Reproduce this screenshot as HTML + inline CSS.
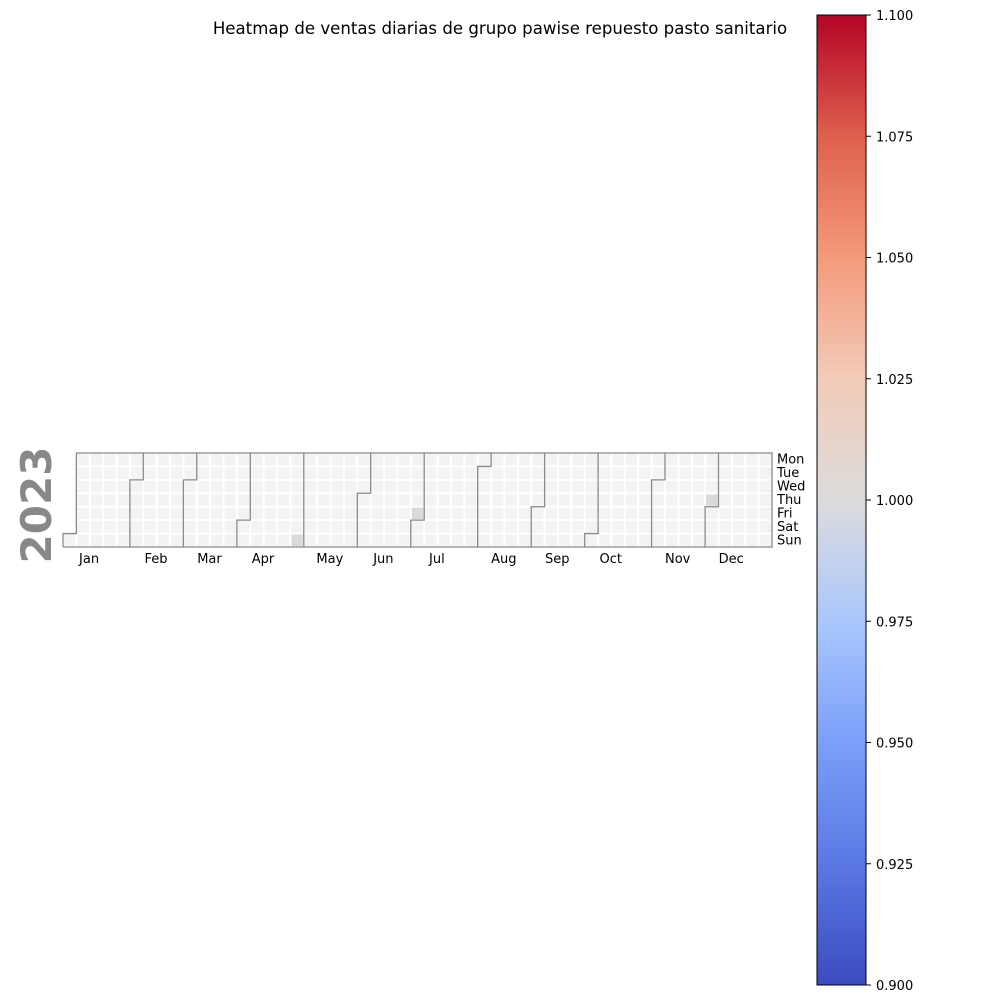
<!DOCTYPE html>
<html><head><meta charset="utf-8">
<style>
html,body{margin:0;padding:0;background:#fff;}
svg{display:block;font-family:"DejaVu Sans","Liberation Sans",sans-serif;}
</style></head>
<body>
<svg id="chart" width="1000" height="1000" viewBox="0 0 1000 1000" xmlns="http://www.w3.org/2000/svg">
<defs>
<linearGradient id="cw" x1="0" y1="1" x2="0" y2="0">
<stop offset="0" stop-color="#3b4cc0"/>
<stop offset="0.125" stop-color="#5a78e4"/>
<stop offset="0.25" stop-color="#7b9ff9"/>
<stop offset="0.375" stop-color="#aac7fd"/>
<stop offset="0.5" stop-color="#dddcdc"/>
<stop offset="0.625" stop-color="#f2cbb7"/>
<stop offset="0.75" stop-color="#f49a7b"/>
<stop offset="0.875" stop-color="#de604d"/>
<stop offset="1" stop-color="#b40426"/>
</linearGradient>
</defs>
<text x="500" y="34" font-size="16.6" text-anchor="middle">Heatmap de ventas diarias de grupo pawise repuesto pasto sanitario</text>
<text x="0" y="0" font-size="42" font-weight="bold" fill="#888" text-anchor="middle" transform="translate(51,505) rotate(-90)">2023</text>
<g id="cells"></g>
<g id="borders"></g>
<g id="labels"></g>
<rect x="817" y="15" width="49" height="970" fill="url(#cw)" stroke="#000" stroke-width="1"/>
<g id="cbticks"></g>
</svg>
<script>
const monthNames = ["Jan","Feb","Mar","Apr","May","Jun","Jul","Aug","Sep","Oct","Nov","Dec"];
const monthDays = [31,28,31,30,31,30,31,31,30,31,30,31];
const dayNames = ["Mon","Tue","Wed","Thu","Fri","Sat","Sun"];
const hiDays = [119, 180, 333]; // day-of-year (0-based) with sales
const cbTicks = [0.900,0.925,0.950,0.975,1.000,1.025,1.050,1.075,1.100];

const NS = "http://www.w3.org/2000/svg";
const x0 = 63, y0 = 453, cw = 709/53, ch = 94/7;
const offset = 6; // Jan 1 2023 is Sunday (Mon=0)
const X = w => x0 + w*cw;
const Y = r => y0 + r*ch;
function el(tag, attrs, parent){ const e=document.createElementNS(NS,tag); for(const k in attrs) e.setAttribute(k,attrs[k]); parent.appendChild(e); return e; }

const cells = document.getElementById('cells');
for (let d=0; d<365; d++){
  const w = Math.floor((d+offset)/7), r = (d+offset)%7;
  const hi = hiDays.includes(d);
  const c = el('rect',{x:X(w)+1,y:Y(r)+1,width:cw-2,height:ch-2,fill:hi?'#d9d9d9':'#f3f3f3'},cells);
  
  
}
for (let r=0;r<6;r++){
  const c = el('rect',{x:X(52)+1,y:Y(r)+1,width:cw-2,height:ch-2,fill:'#f3f3f3'},cells);
  
  
}

const borders = document.getElementById('borders');
let start = 0;
const sty = {fill:'none',stroke:'#888',"stroke-width":1.3};
const labels = document.getElementById('labels');
for (let m=0;m<12;m++){
  const w = Math.floor((start+offset)/7), r = (start+offset)%7;
  let d;
  if (r===0) d = `M${X(w)},${Y(7)} L${X(w)},${Y(0)}`;
  else d = `M${X(w)},${Y(7)} L${X(w)},${Y(r)} L${X(w+1)},${Y(r)} L${X(w+1)},${Y(0)}`;
  const p = el('path',Object.assign({d},sty),borders);
  
  
  const t = el('text',{x:X(w+1.95),y:563,"font-size":13,"text-anchor":"middle"},labels);
  t.textContent = monthNames[m];
  
  
  start += monthDays[m];
}
const outer = el('path',Object.assign({d:`M${X(1)},${Y(0)} L${X(53)},${Y(0)} L${X(53)},${Y(7)} L${X(0)},${Y(7)}`},sty),borders);


dayNames.forEach((n,i)=>{
  const t = el('text',{x:777,y:Y(i)+ch/2+4,"font-size":13},labels);
  t.textContent = n;
  
  
});

const cb = document.getElementById('cbticks');
const cbY = v => 985 - (v-0.9)/0.2*970;
cbTicks.forEach(v=>{
  const l = el('line',{x1:866,x2:871,y1:cbY(v),y2:cbY(v),stroke:'#000'},cb);
  
  
  const t = el('text',{x:876,y:cbY(v)+5,"font-size":13},cb);
  t.textContent = v.toFixed(3);
  
  
});
</script>
</body></html>
